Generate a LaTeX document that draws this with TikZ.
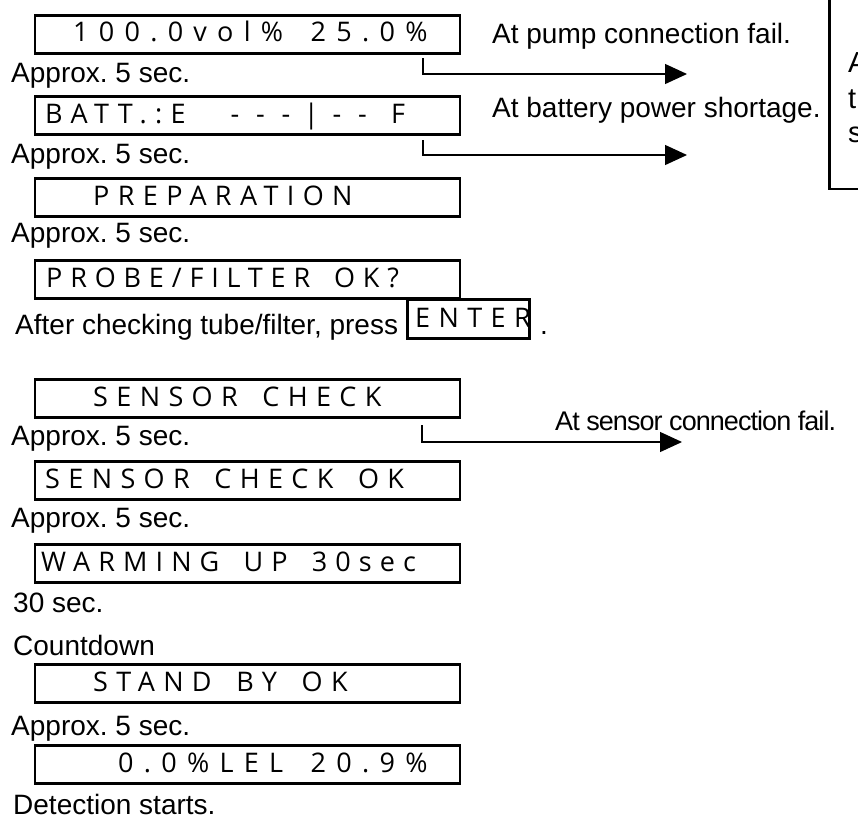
\documentclass[tikz,border=0pt]{standalone}
\usepackage{fontspec}
\setmainfont{Liberation Sans}
\newfontfamily\lcdfont[LetterSpace=31,WordSpace=1.6]{Open Sans}
\usetikzlibrary{arrows.meta}
\frenchspacing
\newcommand{\lcdcell}[1]{\makebox[25.5pt]{#1}}
\begin{document}
\begin{tikzpicture}[x=1pt,y=-1pt,
  lcdbox/.style={draw, line width=2.5pt, minimum width=425pt, minimum height=38pt, inner sep=0pt, anchor=north west},
  keybox/.style={draw, line width=2.5pt, minimum width=122pt, minimum height=39pt, inner sep=0pt, anchor=north west},
  lcdtext/.style={font=\lcdfont\fontsize{27}{27}\selectfont, anchor=base west, inner sep=0pt},
  lbl/.style={font=\fontsize{28}{28}\selectfont, anchor=base west, inner sep=0pt},
  flow/.style={line width=1.3pt, -{Triangle[length=22pt,width=20pt]}}]
\useasboundingbox (0,0) rectangle (858,819);
\clip (0,0) rectangle (858,819);

% LCD display boxes
\node[lcdbox] (b1) at (33.5,14) {};
\node[lcdbox] (b2) at (33.5,95) {};
\node[lcdbox] (b3) at (33.5,177) {};
\node[lcdbox] (b4) at (33.5,259) {};
\node[lcdbox] (b5) at (33.5,378) {};
\node[lcdbox] (b6) at (33.5,460) {};
\node[lcdbox] (b7) at (33.5,543) {};
\node[lcdbox] (b8) at (33.5,663) {};
\node[lcdbox] (b9) at (33.5,744) {};

% LCD texts
\node[lcdtext, font=\lcdfont\fontsize{27}{27}\selectfont\addfontfeature{LetterSpace=38}] (t1) at (73,41) {100.0vol\% 25.0\%};
\node[lcdtext] (t2) at (45,123) {\makebox[177pt][l]{BATT.:E}\lcdcell{-}\lcdcell{-}\lcdcell{-}\lcdcell{|}\lcdcell{-}\lcdcell{-}\hspace{16pt}F};
\node[lcdtext] (t3) at (93,205) {PREPARATION};
\node[lcdtext, font=\lcdfont\fontsize{27}{27}\selectfont\addfontfeature{LetterSpace=29}] (t4) at (46,287) {PROBE/FILTER OK?};
\node[lcdtext] (t5) at (93,406) {SENSOR CHECK};
\node[lcdtext] (t6) at (45,488) {SENSOR CHECK OK};
\node[lcdtext, font=\lcdfont\fontsize{27}{27}\selectfont\addfontfeature{LetterSpace=30}] (t7) at (41,571) {WARMING UP 30sec};
\node[lcdtext] (t8) at (93,691) {STAND BY OK};
\node[lcdtext, font=\lcdfont\fontsize{27}{27}\selectfont\addfontfeature{LetterSpace=38}] (t9) at (118,772) {0.0\%LEL 20.9\%};

% left captions
\node[lbl] (c1) at (11,82) {Approx. 5 sec.};
\node[lbl] (c2) at (11,163) {Approx. 5 sec.};
\node[lbl] (c3) at (11,242) {Approx. 5 sec.};
\node[lbl] (c4) at (15,334) {After checking tube/filter, press};
\node[keybox] (enter) at (406,298) {};
\node[lcdtext] (entert) at (415,327) {ENTER};
\node[lbl] (dot) at (540,334) {.};
\node[lbl] (c5) at (11,445) {Approx. 5 sec.};
\node[lbl] (c6) at (11,527) {Approx. 5 sec.};
\node[lbl] (c7) at (13,612) {30 sec.};
\node[lbl] (c8) at (13,655) {Countdown};
\node[lbl] (c9) at (11,735) {Approx. 5 sec.};
\node[lbl] (c10) at (13,814) {Detection starts.};

% right captions
\node[lbl] (r1) at (492,43) {At pump connection fail.};
\node[lbl] (r2) at (492,117) {At battery power shortage.};
\node[lbl, font=\fontsize{27}{27}\selectfont\addfontfeature{LetterSpace=-3.5}] (r3) at (555,430) {At sensor connection fail.};

% branch arrows
\coordinate (a1s) at (423,58);
\coordinate (a1e) at (687,74);
\coordinate (a2s) at (423,140);
\coordinate (a2e) at (687,155);
\coordinate (a3s) at (422,425);
\coordinate (a3e) at (682,442);
\draw[flow] (a1s) |- (a1e);
\draw[flow] (a2s) |- (a2e);
\draw[flow] (a3s) |- (a3e);

% partially visible note box at the right edge
\node[draw, line width=2.5pt, minimum width=200pt, minimum height=210pt, inner sep=0pt, anchor=south west] (note) at (828,190) {};
\node[lbl, font=\fontsize{29}{29}\selectfont] (n1) at (848,72) {A};
\node[lbl, font=\fontsize{29}{29}\selectfont] (n2) at (848,108) {t};
\node[lbl, font=\fontsize{29}{29}\selectfont] (n3) at (848,142) {s};
\end{tikzpicture}
\end{document}
